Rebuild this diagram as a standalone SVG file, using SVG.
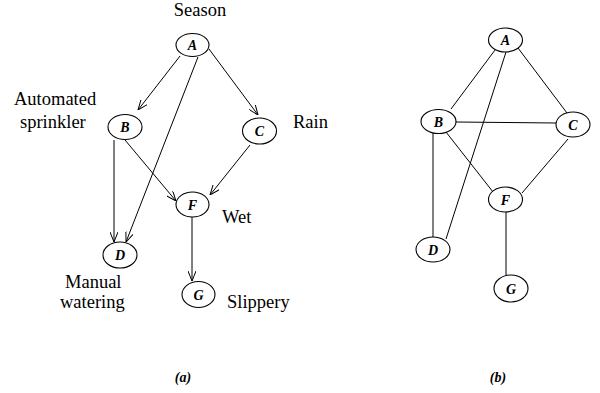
<svg xmlns="http://www.w3.org/2000/svg" width="600" height="393" viewBox="0 0 600 393">
<style>
.n{fill:#fff;stroke:#000;stroke-width:1.1}
.l{font-size:14px;font-weight:bold;font-style:italic;text-anchor:middle}
.t{font-size:18.5px}
.c{stroke:#000;stroke-width:1;fill:none}
.cap{font-size:14px;font-weight:bold;font-style:italic;text-anchor:middle}
</style>
<defs>
<marker id="ar" viewBox="0 0 10 8" refX="10" refY="4" markerWidth="10" markerHeight="8" markerUnits="userSpaceOnUse" orient="auto">
<path d="M0,0 L10,4 L0,8" fill="none" stroke="#000" stroke-width="1"/>
</marker>
</defs>
<g id="connectors">
<line class="c" x1="180" y1="56" x2="138" y2="110" marker-end="url(#ar)"/>
<line class="c" x1="198" y1="57" x2="126" y2="242" marker-end="url(#ar)"/>
<line class="c" x1="209" y1="49" x2="258" y2="115" marker-end="url(#ar)"/>
<line class="c" x1="114" y1="140" x2="114" y2="242" marker-end="url(#ar)"/>
<line class="c" x1="125" y1="140" x2="176" y2="201" marker-end="url(#ar)"/>
<line class="c" x1="250" y1="145" x2="210" y2="195" marker-end="url(#ar)"/>
<line class="c" x1="192" y1="217" x2="192" y2="281" marker-end="url(#ar)"/>
<line class="c" x1="495" y1="50" x2="451" y2="109"/>
<line class="c" x1="518" y1="48" x2="567" y2="113"/>
<line class="c" x1="506" y1="52" x2="446" y2="239"/>
<line class="c" x1="456" y1="122" x2="556" y2="123"/>
<line class="c" x1="433" y1="133" x2="433" y2="237"/>
<line class="c" x1="446" y1="132" x2="493" y2="192"/>
<line class="c" x1="568" y1="139" x2="522" y2="193"/>
<line class="c" x1="506" y1="212" x2="506" y2="276"/>
</g>
<g font-family="'Liberation Serif', 'Times New Roman', serif">
<g id="a-A"><ellipse class="n" cx="192.5" cy="45" rx="16.5" ry="11.5"/><text class="l" x="192.5" y="50">A</text></g>
<g id="a-B"><ellipse class="n" cx="125" cy="127" rx="17" ry="12.5"/><text class="l" x="125" y="132">B</text></g>
<g id="a-C"><ellipse class="n" cx="259.5" cy="131" rx="17" ry="13"/><text class="l" x="259.5" y="136">C</text></g>
<g id="a-F"><ellipse class="n" cx="192.5" cy="204.5" rx="16.5" ry="12.5"/><text class="l" x="192.5" y="209.5">F</text></g>
<g id="a-D"><ellipse class="n" cx="120" cy="255" rx="17" ry="13"/><text class="l" x="120" y="260">D</text></g>
<g id="a-G"><ellipse class="n" cx="198.5" cy="294.5" rx="16.5" ry="13"/><text class="l" x="198.5" y="299.5">G</text></g>
<g id="labels">
<text class="t" x="200" y="16" text-anchor="middle">Season</text>
<text class="t" x="14" y="105">Automated</text>
<text class="t" x="20" y="128">sprinkler</text>
<text class="t" x="293" y="128">Rain</text>
<text class="t" x="222" y="223">Wet</text>
<text class="t" x="65" y="288">Manual</text>
<text class="t" x="60" y="308">watering</text>
<text class="t" x="227" y="308">Slippery</text>
<text class="cap" x="183" y="382">(a)</text>
<text class="cap" x="498" y="382">(b)</text>
</g>
<g id="b-A"><ellipse class="n" cx="505.5" cy="40" rx="17" ry="12"/><text class="l" x="505.5" y="45">A</text></g>
<g id="b-B"><ellipse class="n" cx="438.5" cy="121.5" rx="17.5" ry="12"/><text class="l" x="438.5" y="126.5">B</text></g>
<g id="b-C"><ellipse class="n" cx="573" cy="124.5" rx="17" ry="12.5"/><text class="l" x="573" y="129.5">C</text></g>
<g id="b-F"><ellipse class="n" cx="505.5" cy="199.5" rx="17" ry="12.5"/><text class="l" x="505.5" y="204.5">F</text></g>
<g id="b-D"><ellipse class="n" cx="433" cy="249.5" rx="17" ry="12.5"/><text class="l" x="433" y="254.5">D</text></g>
<g id="b-G"><ellipse class="n" cx="511" cy="288.5" rx="17" ry="13.5"/><text class="l" x="511" y="293.5">G</text></g>
</g>
</svg>
